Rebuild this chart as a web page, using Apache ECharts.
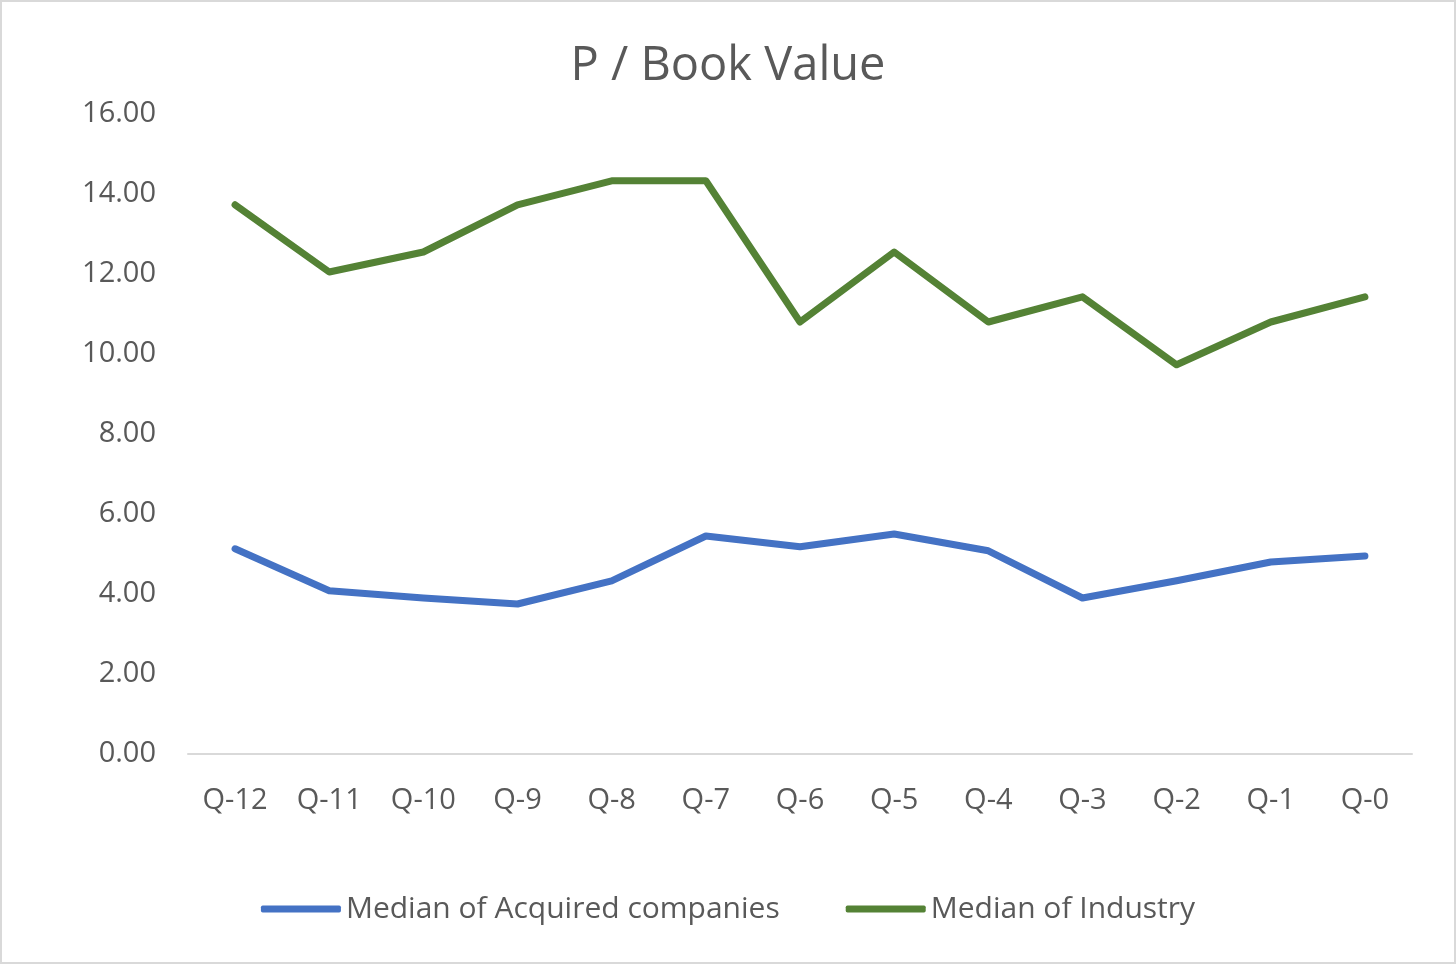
<!DOCTYPE html>
<html>
<head>
<meta charset="utf-8">
<script src="https://cdn.jsdelivr.net/npm/echarts@6/dist/echarts.min.js"></script>
<style>
html,body{margin:0;padding:0;background:#fff;}
#wrap{position:relative;width:1456px;height:964px;}
#chart{position:absolute;left:0;top:0;width:1456px;height:964px;}
#frame{position:absolute;left:0;top:0;width:1456px;height:964px;box-sizing:border-box;border:2px solid #d9d9d9;pointer-events:none;}
</style>
</head>
<body>
<div id="wrap"><div id="chart"></div><div id="frame"></div></div>
<script>
const categories = ['Q-12','Q-11','Q-10','Q-9','Q-8','Q-7','Q-6','Q-5','Q-4','Q-3','Q-2','Q-1','Q-0'];
const acquired = [5.13, 4.08, 3.90, 3.75, 4.33, 5.45, 5.18, 5.50, 5.08, 3.90, 4.33, 4.80, 4.95];
const industry = [13.73, 12.05, 12.55, 13.73, 14.33, 14.33, 10.80, 12.55, 10.80, 11.43, 9.73, 10.80, 11.43];
const seriesNames = ['Median of Acquired companies', 'Median of Industry'];
const titleText = 'P / Book Value';

const font = '"Open Sans", "Noto Sans", sans-serif';
const chart = echarts.init(document.getElementById('chart'), null, {renderer: 'canvas'});
chart.setOption({
  animation: false,
  backgroundColor: '#fff',
  title: {
    text: titleText,
    left: 'center',
    top: 38,
    textStyle: {fontFamily: font, fontSize: 47, fontWeight: 'normal', color: '#595959'}
  },
  legend: {
    bottom: 35,
    left: 'center',
    itemWidth: 80,
    itemHeight: 7,
    itemGap: 66,
    icon: 'roundRect',
    data: seriesNames,
    textStyle: {fontFamily: font, fontSize: 30, color: '#595959', padding: [0,0,0,0]}
  },
  grid: {left: 188, right: 44, top: 114, bottom: 210},
  xAxis: {
    type: 'category',
    data: categories,
    boundaryGap: true,
    axisLine: {show: true, lineStyle: {color: '#d9d9d9', width: 2}},
    axisTick: {show: false},
    axisLabel: {fontFamily: font, fontSize: 29, color: '#595959', margin: 32}
  },
  yAxis: {
    type: 'value',
    min: 0, max: 16, interval: 2,
    axisLine: {show: false},
    axisTick: {show: false},
    splitLine: {show: false},
    axisLabel: {fontFamily: font, fontSize: 29, color: '#595959', margin: 32,
      formatter: v => v.toFixed(2)}
  },
  series: [
    {name: seriesNames[0], type: 'line', data: acquired, symbol: 'none',
     itemStyle: {color: '#4472C4'},
     lineStyle: {color: '#4472C4', width: 7, cap: 'round', join: 'round'}},
    {name: seriesNames[1], type: 'line', data: industry, symbol: 'none',
     itemStyle: {color: '#548235'},
     lineStyle: {color: '#548235', width: 7, cap: 'round', join: 'round'}}
  ]
});
</script>
</body>
</html>
